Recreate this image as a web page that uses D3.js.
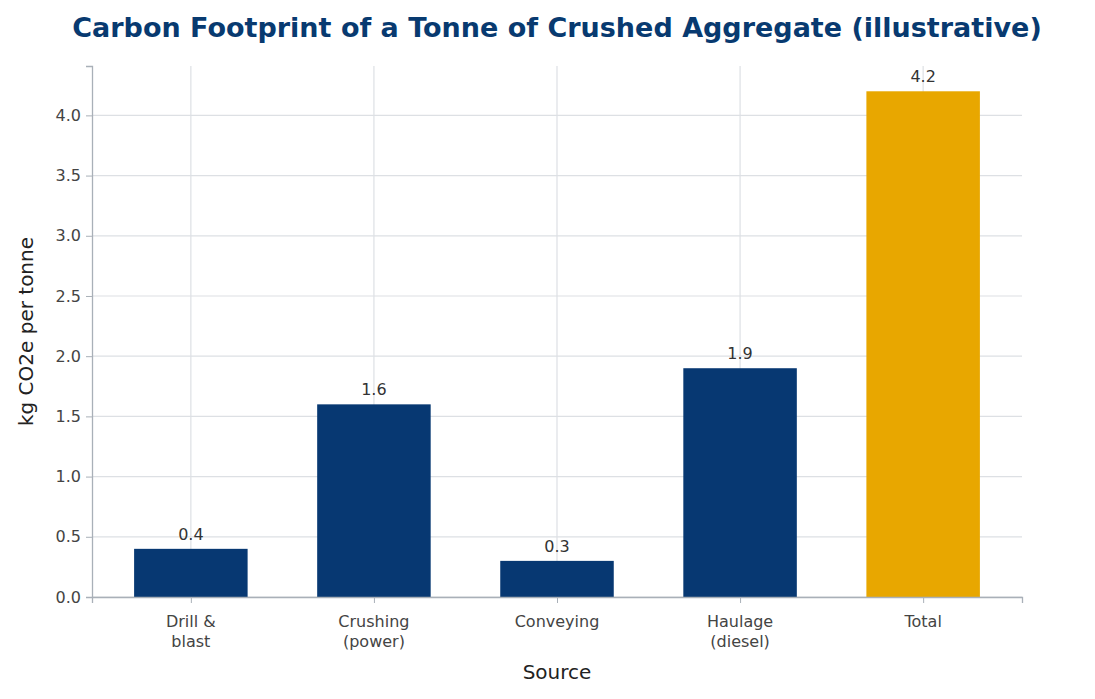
<!DOCTYPE html>
<html lang="en">
<head>
<meta charset="UTF-8">
<title>Carbon Footprint</title>
<style>
  body { margin: 0; background: #fff; }
  text { font-family: "DejaVu Sans", sans-serif; }
</style>
</head>
<body>
<script src="https://d3js.org/d3.v7.min.js"></script>
<script>
const categories = [["Drill &", "blast"], ["Crushing", "(power)"], ["Conveying"], ["Haulage", "(diesel)"], ["Total"]];
const values = [0.4, 1.6, 0.3, 1.9, 4.2];
const yTicks = [0, 0.5, 1, 1.5, 2, 2.5, 3, 3.5, 4];

const W = 1095, H = 699;
const pLeft = 92, pRight = 1022, pTop = 66, pBottom = 597;

const svg = d3.select("body").append("svg").attr("width", W).attr("height", H);

const x = d3.scaleLinear().domain([-0.54, 4.54]).range([pLeft, pRight]);
const y = d3.scaleLinear().domain([0, 4.41]).range([pBottom, pTop]);
const bw = x(0.62) - x(0);

// grid
svg.append("g").selectAll("line").data(yTicks).join("line")
  .attr("x1", pLeft).attr("x2", pRight)
  .attr("y1", d => y(d)).attr("y2", d => y(d))
  .attr("stroke", "#dde0e4").attr("stroke-width", 1.2);
svg.append("g").selectAll("line").data(values).join("line")
  .attr("x1", (d, i) => x(i)).attr("x2", (d, i) => x(i))
  .attr("y1", pTop).attr("y2", pBottom)
  .attr("stroke", "#dde0e4").attr("stroke-width", 1.2);

// bars
svg.append("g").selectAll("rect").data(values).join("rect")
  .attr("x", (d, i) => x(i) - bw / 2)
  .attr("width", bw)
  .attr("y", d => y(d))
  .attr("height", d => y(0) - y(d))
  .attr("fill", (d, i) => i === values.length - 1 ? "#e8a700" : "#073872");

// value labels
svg.append("g").selectAll("text").data(values).join("text")
  .attr("x", (d, i) => x(i)).attr("y", d => y(d) - 9)
  .attr("text-anchor", "middle").attr("font-size", 16).attr("fill", "#333")
  .text(d => d.toFixed(1));

// axes
const yAxis = svg.append("g").attr("transform", `translate(${pLeft},0)`)
  .call(d3.axisLeft(y).tickValues(yTicks).tickFormat(d3.format(".1f")).tickSize(6).tickPadding(5));
const xAxis = svg.append("g").attr("transform", `translate(0,${pBottom})`)
  .call(d3.axisBottom(x).tickValues(d3.range(values.length)).tickFormat("").tickSize(6));
[yAxis, xAxis].forEach(g => {
  g.select(".domain").attr("stroke", "#a9b0b8").attr("stroke-width", 1.3);
  g.selectAll(".tick line").attr("stroke", "#a9b0b8");
  g.selectAll("text").attr("font-size", 16).attr("fill", "#444").attr("font-family", "DejaVu Sans, sans-serif");
});

// x tick labels (multi-line)
const xl = svg.append("g").selectAll("text").data(categories).join("text")
  .attr("text-anchor", "middle").attr("font-size", 16).attr("fill", "#444");
xl.each(function(lines, i) {
  d3.select(this).selectAll("tspan").data(lines).join("tspan")
    .attr("x", x(i)).attr("y", (d, j) => pBottom + 30 + j * 20).text(d => d);
});

// axis titles
svg.append("text").attr("x", (pLeft + pRight) / 2).attr("y", 679)
  .attr("text-anchor", "middle").attr("font-size", 20).attr("fill", "#222").text("Source");
svg.append("text").attr("transform", `translate(33,${(pTop + pBottom) / 2}) rotate(-90)`)
  .attr("text-anchor", "middle").attr("font-size", 20).attr("fill", "#222").text("kg CO2e per tonne");

// title
svg.append("text").attr("x", 557).attr("y", 37)
  .attr("text-anchor", "middle").attr("font-size", 27).attr("font-weight", "bold")
  .attr("fill", "#083a70").text("Carbon Footprint of a Tonne of Crushed Aggregate (illustrative)");
</script>
</body>
</html>
